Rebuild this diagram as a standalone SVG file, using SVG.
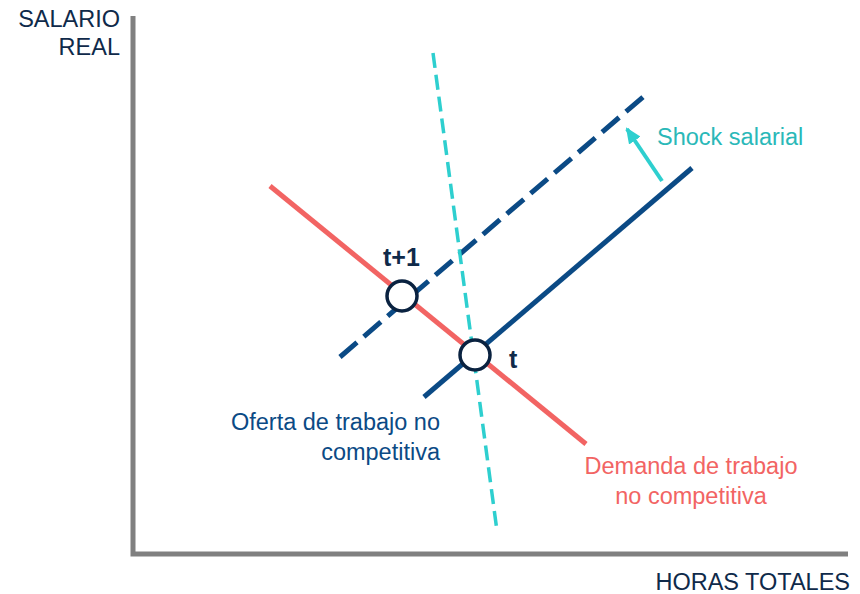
<svg xmlns="http://www.w3.org/2000/svg" width="860" height="594" viewBox="0 0 860 594">
<style>
text{font-family:"Liberation Sans",Arial,sans-serif;font-size:23.5px}
.axis{stroke:#808080;stroke-width:5;fill:none}
.navy{fill:#0F2A4A}
.blue{fill:#0B4A85}
.red{fill:#F26463}
.cyan{fill:#2AB8B8}
.lbl{font-size:25px;font-weight:bold}
.node{fill:#fff;stroke:#0A2240;stroke-width:3.5}
</style>
<defs>
<marker id="ah" markerWidth="16" markerHeight="14" refX="14" refY="7" orient="auto" markerUnits="userSpaceOnUse" viewBox="0 0 16 14">
<path d="M0,0 L16,7 L0,14 z" fill="#2ECFCF"/>
</marker>
</defs>
<g id="axes">
<polyline class="axis" points="133,16 133,554 848,554"/>
<text class="navy" x="120" y="27" text-anchor="end">SALARIO</text>
<text class="navy" x="120" y="55" text-anchor="end">REAL</text>
<text class="navy" x="850" y="590" text-anchor="end">HORAS TOTALES</text>
</g>
<g id="connectors">
<line id="demanda" x1="270" y1="186" x2="586" y2="444" stroke="#F26463" stroke-width="5"/>
<line id="oferta" x1="424" y1="397" x2="692" y2="168" stroke="#0B4A85" stroke-width="5"/>
<line id="oferta-t1" x1="340" y1="357" x2="643" y2="97" stroke="#0B4A85" stroke-width="5" stroke-dasharray="22.4 9"/>
<line id="vertical" x1="433" y1="53" x2="497" y2="531" stroke="#2ECFCF" stroke-width="3.5" stroke-dasharray="15 7"/>
<line id="shock" x1="662" y1="181" x2="627" y2="129" stroke="#2ECFCF" stroke-width="4" marker-end="url(#ah)"/>
</g>
<g id="node-t1">
<circle class="node" cx="402" cy="296" r="15"/>
<text x="383" y="266" class="navy lbl">t+1</text>
</g>
<g id="node-t">
<circle class="node" cx="475" cy="355" r="15"/>
<text x="509" y="368" class="navy lbl">t</text>
</g>
<g id="label-shock">
<text class="cyan" x="657" y="145">Shock salarial</text>
</g>
<g id="label-oferta">
<text class="blue" x="440" y="430" text-anchor="end">Oferta de trabajo no</text>
<text class="blue" x="440" y="460" text-anchor="end">competitiva</text>
</g>
<g id="label-demanda">
<text class="red" x="691" y="474" text-anchor="middle">Demanda de trabajo</text>
<text class="red" x="691" y="504" text-anchor="middle">no competitiva</text>
</g>
</svg>
